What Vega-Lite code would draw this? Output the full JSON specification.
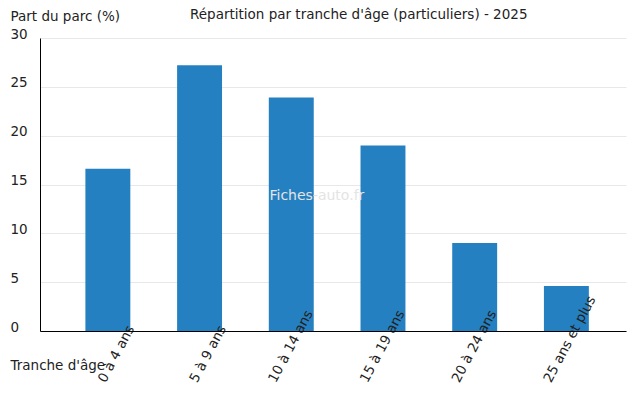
{
  "$schema": "https://vega.github.io/schema/vega-lite/v6.json",
  "autosize": "none",
  "width": 586,
  "height": 293,
  "padding": {"left": 40, "top": 38, "right": 14, "bottom": 69},
  "background": "white",
  "config": {
    "font": "DejaVu Sans",
    "view": {"stroke": null},
    "axis": {"labelFont": "DejaVu Sans", "titleFont": "DejaVu Sans", "labelColor": "#222", "titleColor": "#222", "labelFontSize": 13.5, "titleFontSize": 13.5, "titleFontWeight": "normal"}
  },
  "title": {
    "text": "Répartition par tranche d'âge (particuliers) - 2025",
    "anchor": "start",
    "dx": 180,
    "offset": -12,
    "fontSize": 13.5,
    "fontWeight": "normal",
    "color": "#222",
    "font": "DejaVu Sans"
  },
  "datasets": {
    "parc": [
      {"tranche": "0 à 4 ans", "part": 16.6},
      {"tranche": "5 à 9 ans", "part": 27.2},
      {"tranche": "10 à 14 ans", "part": 23.9},
      {"tranche": "15 à 19 ans", "part": 19.0},
      {"tranche": "20 à 24 ans", "part": 9.0},
      {"tranche": "25 ans et plus", "part": 4.6}
    ],
    "marque": [
      {"texte": "Fiches-auto.fr", "tranche": "10 à 14 ans", "part": 13.8}
    ]
  },
  "layer": [
    {
      "data": {"name": "parc"},
      "mark": {"type": "bar", "color": "#2580C1"},
      "encoding": {
        "x": {
          "field": "tranche",
          "type": "nominal",
          "sort": null,
          "scale": {"domain": ["0 à 4 ans", "5 à 9 ans", "10 à 14 ans", "15 à 19 ans", "20 à 24 ans", "25 ans et plus"], "paddingInner": 0.51, "paddingOuter": 0.45, "align": 0.55},
          "axis": {
            "title": "Tranche d'âge",
            "titleAngle": 0,
            "titleAlign": "left",
            "titleBaseline": "middle",
            "titleX": -30,
            "titleY": 34,
            "labelAngle": -62,
            "labelAlign": "left",
            "labelBaseline": "middle",
            "labelPadding": 50,
            "labelOffset": {"condition": {"test": "datum.value === '0 à 4 ans' || datum.value === '5 à 9 ans'", "value": -6}, "value": -19},
            "ticks": false,
            "domainColor": "#000",
            "domainWidth": 1,
            "grid": false,
            "zindex": 1
          }
        },
        "y": {
          "field": "part",
          "type": "quantitative",
          "scale": {"domain": [0, 30], "nice": false},
          "axis": {
            "title": "Part du parc (%)",
            "titleAngle": 0,
            "titleAlign": "left",
            "titleBaseline": "middle",
            "titleX": -30,
            "titleY": -22,
            "values": [0, 5, 10, 15, 20, 25, 30],
            "labelAlign": "left",
            "labelBaseline": "alphabetic",
            "labelPadding": 30,
            "ticks": false,
            "domainColor": "#000",
            "gridColor": "#e8e8e8",
            "gridWidth": 1
          }
        }
      }
    },
    {
      "data": {"name": "marque"},
      "mark": {"type": "text", "color": "#e4e4e4", "fontSize": 14, "font": "DejaVu Sans", "align": "center", "baseline": "middle"},
      "encoding": {
        "x": {"field": "tranche", "type": "nominal", "bandPosition": 1.07},
        "y": {"field": "part", "type": "quantitative"},
        "text": {"field": "texte"}
      }
    }
  ]
}
